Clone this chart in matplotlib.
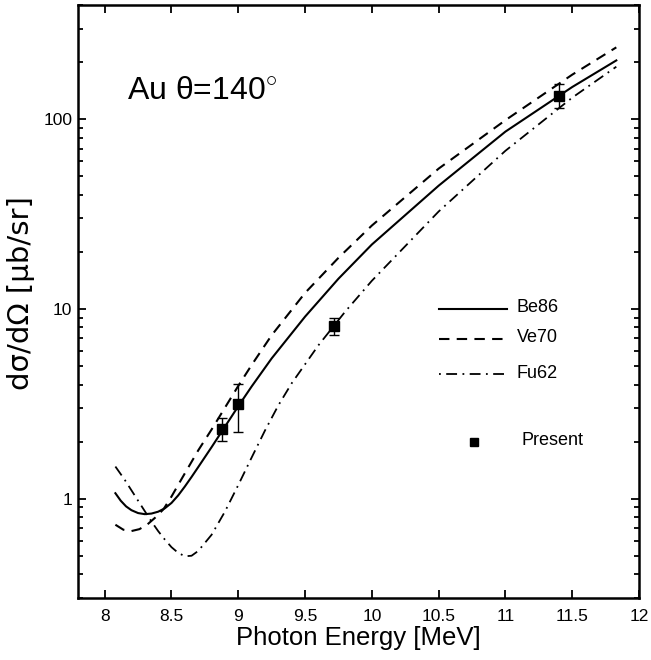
import numpy as np
import matplotlib
matplotlib.use("Agg")
import matplotlib.pyplot as plt
from matplotlib.ticker import LogLocator, NullFormatter

plt.rcParams['font.family'] = ['Liberation Sans', 'DejaVu Sans']
plt.rcParams['mathtext.fontset'] = 'custom'
plt.rcParams['mathtext.rm'] = 'Liberation Sans'

# calculated cross sections, Au at 140 deg  (energy in MeV, dsigma/dOmega in ub/sr)
e_be86 = [8.08, 8.12, 8.16, 8.2, 8.25, 8.3, 8.35, 8.4, 8.45, 8.5, 8.55, 8.6,
          8.65, 8.7, 8.8, 8.9, 9.0, 9.1, 9.25, 9.5, 9.75, 10.0, 10.5, 11.0,
          11.5, 11.83]
s_be86 = [1.07, 0.977, 0.912, 0.871, 0.841, 0.830, 0.836, 0.855, 0.891, 0.951,
          1.042, 1.161, 1.303, 1.469, 1.871, 2.399, 3.076, 3.908, 5.495, 9.12,
          14.45, 21.88, 44.67, 86.1, 147.9, 204.2]

e_ve70 = [8.08, 8.14, 8.2, 8.26, 8.32, 8.38, 8.44, 8.5, 8.58, 8.7, 8.8, 8.9,
          9.0, 9.1, 9.25, 9.5, 9.75, 10.0, 10.5, 11.0, 11.5, 11.83]
s_ve70 = [0.730, 0.687, 0.676, 0.692, 0.733, 0.798, 0.881, 1.028, 1.288,
          1.799, 2.317, 3.02, 3.936, 5.07, 7.28, 12.16, 18.62, 27.54, 54.95,
          98.9, 171.8, 239.3]

e_fu62 = [8.08, 8.15, 8.2, 8.25, 8.3, 8.35, 8.4, 8.45, 8.5, 8.55, 8.6, 8.65,
          8.7, 8.8, 8.9, 9.0, 9.1, 9.2, 9.3, 9.4, 9.6, 9.8, 10.0, 10.5, 11.0,
          11.5, 11.83]
s_fu62 = [1.479, 1.259, 1.109, 0.977, 0.861, 0.759, 0.676, 0.610, 0.556,
          0.519, 0.498, 0.501, 0.531, 0.646, 0.856, 1.182, 1.650, 2.291, 3.108,
          4.064, 6.442, 9.683, 14.09, 32.66, 68.23, 130.0, 189.2]

# measured points
e_meas = [8.878, 9.0, 9.72, 11.4]
s_meas = [2.34, 3.16, 8.13, 133.0]
s_lo = [2.02, 2.25, 7.3, 114.0]
s_hi = [2.67, 4.03, 9.0, 153.0]

fig = plt.figure(figsize=(6.51, 6.60), dpi=100)
ax = fig.add_axes([0.1198, 0.0939, 0.8618, 0.8985])

dash = (0, (5, 3.5))
dashdot = (0, (6, 3, 1, 3))

ax.plot(e_be86, s_be86, color='black', lw=1.5, ls='-')
ax.plot(e_ve70, s_ve70, color='black', lw=1.5, ls=dash)
ax.plot(e_fu62, s_fu62, color='black', lw=1.3, ls=dashdot)

yerr = [np.array(s_meas) - np.array(s_lo), np.array(s_hi) - np.array(s_meas)]
ax.errorbar(e_meas, s_meas, yerr=yerr, fmt='s', color='black', ms=7.5,
            elinewidth=1.0, capsize=3.5, capthick=1.0)

ax.set_yscale('log')
ax.set_xlim(7.8, 12)
ax.set_ylim(0.3, 400)

ax.set_xticks([8, 8.5, 9, 9.5, 10, 10.5, 11, 11.5, 12])
ax.set_xticklabels(['8', '8.5', '9', '9.5', '10', '10.5', '11', '11.5', '12'])
ax.set_yticks([1, 10, 100])
ax.set_yticklabels(['1', '10', '100'])
ax.yaxis.set_minor_locator(LogLocator(base=10, subs=np.arange(2, 10)))
ax.yaxis.set_minor_formatter(NullFormatter())

ax.tick_params(which='both', direction='in', top=True, right=True,
               labelsize=12.5, width=1.3)
ax.tick_params(which='major', length=6)
ax.tick_params(which='minor', length=3.5)
ax.tick_params(axis='x', which='major', pad=8)
ax.tick_params(axis='y', which='major', pad=4)
for sp in ax.spines.values():
    sp.set_linewidth(1.8)

ax.set_xlabel('Photon Energy [MeV]', fontsize=18.5, labelpad=1)
ax.set_ylabel('d\u03c3/d\u03a9 [\u03bcb/sr]', fontsize=21,
              family=['DejaVu Sans'])
ax.yaxis.set_label_coords(-0.077, 0.515)

ax.text(0.087, 0.855, 'Au \u03b8=140$^{\\circ}$', transform=ax.transAxes,
        fontsize=23, va='center', ha='left')

# legend drawn by hand
tr = ax.transAxes
ax.plot([0.643, 0.764], [0.488, 0.488], transform=tr, color='black', lw=1.5)
ax.plot([0.643, 0.764], [0.437, 0.437], transform=tr, color='black', lw=1.5,
        ls=dash)
ax.plot([0.643, 0.764], [0.377, 0.377], transform=tr, color='black', lw=1.3,
        ls=(0, (1, 3, 6, 3)))
ax.plot([0.706], [0.263], 's', transform=tr, color='black', ms=6)
lab_kw = dict(transform=tr, fontsize=13, va='center', ha='left')
ax.text(0.782, 0.490, 'Be86', **lab_kw)
ax.text(0.782, 0.439, 'Ve70', **lab_kw)
ax.text(0.782, 0.379, 'Fu62', **lab_kw)
ax.text(0.790, 0.266, 'Present', **lab_kw)

fig.savefig('out.png', dpi=100)
